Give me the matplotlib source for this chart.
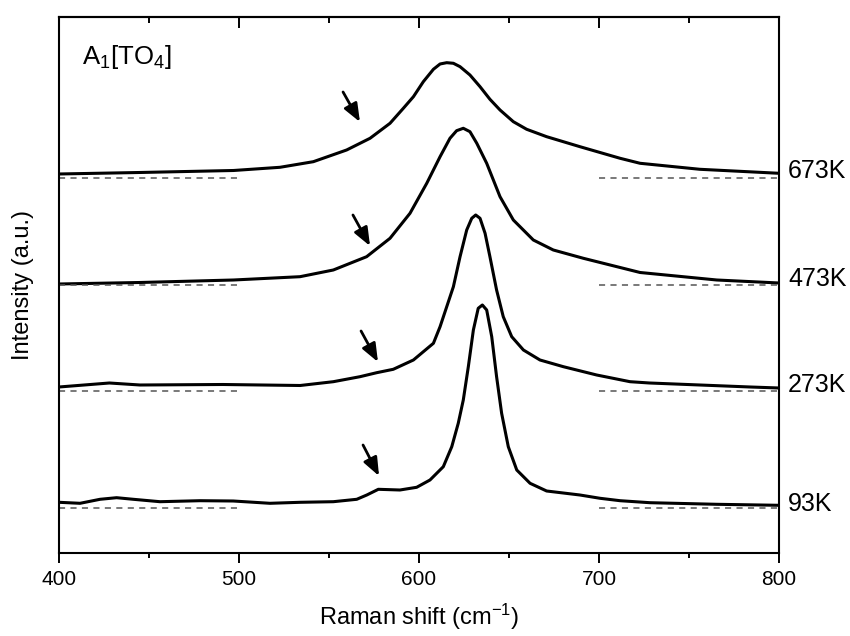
import numpy as np
import matplotlib
matplotlib.use("Agg")
import matplotlib.pyplot as plt
from matplotlib.ticker import MultipleLocator

plt.rcParams['font.family'] = ['Liberation Sans', 'DejaVu Sans']
plt.rcParams['mathtext.fontset'] = 'custom'
plt.rcParams['mathtext.rm'] = 'Liberation Sans'
plt.rcParams['mathtext.it'] = 'Liberation Sans'
plt.rcParams['xtick.labelsize'] = 15

# spectra (intensity in a.u., curves already offset)
x_673 = [400, 445, 497, 522.8, 541.3, 559.8, 572.8, 583.9, 591.3, 596.9, 602.4, 608, 611.7, 615.4, 619.1,
         622.8, 628.3, 633.9, 639.4, 645, 652.4, 659.8, 670.9, 689.4, 711.7, 722.8, 756, 800]
y_673 = [379, 380.5, 382.5, 385.7, 391.3, 403, 414.7, 429.7, 444.7, 456.3, 471.3, 483.7, 489, 490.3, 489.7,
         486.3, 478, 466.3, 453.7, 443, 431.3, 423.7, 416.3, 406.3, 394.7, 389.7, 383.7, 379.7]

x_473 = [400, 445, 497, 533.9, 552.4, 570.9, 583.9, 595, 604.3, 611.7, 617.2, 620.9, 624.6, 628.3, 632.1,
         637.6, 645, 652.4, 663.5, 674.6, 691.3, 722.8, 765.4, 800]
y_473 = [269, 270.5, 273, 276.3, 283, 296.3, 314.7, 339.7, 369.7, 396.3, 414.7, 422.3, 424.7, 421.3, 409.7,
         389.7, 356.3, 333, 313, 303, 294.7, 280.5, 273, 270]

x_273 = [400, 428, 445, 491, 534, 552.4, 567.2, 576.5, 585.7, 596.9, 608, 611.7, 615.4, 619.1, 622.8, 626.5,
         629.3, 631.5, 633.9, 636.7, 639.4, 643.1, 646.8, 651.5, 658, 667.2, 680.2, 698.7, 717.2, 728, 784, 800]
y_273 = [166, 170, 168, 168.5, 167.5, 171.3, 176.3, 180.3, 183.7, 193, 209.7, 226.3, 246.3, 266.3, 296.3, 323,
         334.7, 338, 334.7, 319.7, 296.3, 263, 236.3, 216.3, 203, 193, 186.3, 178, 171.3, 170, 166, 165]

x_93 = [400, 411.7, 422.8, 432, 441.3, 456.1, 478.3, 496.8, 517.2, 533.9, 552.4, 565.4, 571, 577.4, 589.4,
        598.7, 606.1, 613.5, 618.2, 621.8, 624.6, 627.4, 630.2, 632.9, 635.2, 637.6, 640.4, 643.1, 645.9,
        649.6, 654.3, 661.7, 670.9, 689.4, 700.6, 711.7, 728.3, 765.4, 800]
y_93 = [50.7, 49.7, 53.7, 55.3, 53.7, 51.3, 52.3, 52, 49.7, 50.7, 51.3, 53.7, 58, 63.7, 63,
        65.7, 73, 86.3, 106.3, 129.7, 153, 186.3, 223, 244.7, 248, 243, 216.3, 176.3, 139.7,
        106.3, 83, 69.7, 62, 58, 54.7, 52.3, 50.3, 48.7, 47.7]

xs = [x_673, x_473, x_273, x_93]
ys = [y_673, y_473, y_273, y_93]
temps = ['673K', '473K', '273K', '93K']
baselines = [374.5, 268.3, 161.7, 44.7]
label_y = [382, 274, 168, 49.5]

# arrows: (tail x, tail y, head x, head y)
arrows = [(557.8, 461, 567.2, 431),
          (563.3, 338, 572.8, 307),
          (567.8, 222, 577.2, 191),
          (568.9, 108, 577.8, 77)]

fig = plt.figure(figsize=(8.5, 6.36), dpi=100)
ax = fig.add_axes([0.0694, 0.1305, 0.8471, 0.8428])

for xx, yy in zip(xs, ys):
    ax.plot(xx, yy, color='k', lw=2.2, solid_joinstyle='round', solid_capstyle='round')

for b in baselines:
    ax.plot([400, 500], [b, b], color='#555555', lw=1.1, ls=(0, (4, 3.5)))
    ax.plot([700, 800], [b, b], color='#555555', lw=1.1, ls=(0, (4, 3.5)))

for (tx, ty, hx, hy) in arrows:
    ax.annotate('', xy=(hx, hy), xytext=(tx, ty),
                arrowprops=dict(arrowstyle='-|>,head_length=0.55,head_width=0.22',
                                color='k', lw=2, mutation_scale=20, shrinkA=0, shrinkB=0))

for t, ly in zip(temps, label_y):
    ax.text(805, ly, t, fontsize=18, va='center', ha='left', clip_on=False)

ax.text(412.8, 489, r'A$_\mathregular{1}$[TO$_\mathregular{4}$]', fontsize=18.5, va='baseline', ha='left')

ax.set_xlim(400, 800)
ax.set_ylim(0, 536)
ax.set_xticks([400, 500, 600, 700, 800])
ax.xaxis.set_minor_locator(MultipleLocator(50))
ax.set_yticks([])
ax.tick_params(axis='x', which='major', direction='out', length=7.5, width=1.4, labelsize=15, pad=5)
ax.tick_params(axis='x', which='minor', direction='out', length=3.5, width=1.4)

top = ax.secondary_xaxis('top')
top.set_xticks([400, 500, 600, 700, 800])
top.xaxis.set_minor_locator(MultipleLocator(50))
top.tick_params(axis='x', which='major', direction='in', length=8, width=1.4, labeltop=False)
top.tick_params(axis='x', which='minor', direction='in', length=4.5, width=1.4)
top.spines['top'].set_linewidth(1.5)

for s in ax.spines.values():
    s.set_linewidth(1.5)

ax.set_xlabel(r'Raman shift (cm$^\mathregular{-1}$)', fontsize=17, labelpad=9)
ax.set_ylabel('Intensity (a.u.)', fontsize=17, labelpad=18)

fig.savefig('out.png', dpi=100)
